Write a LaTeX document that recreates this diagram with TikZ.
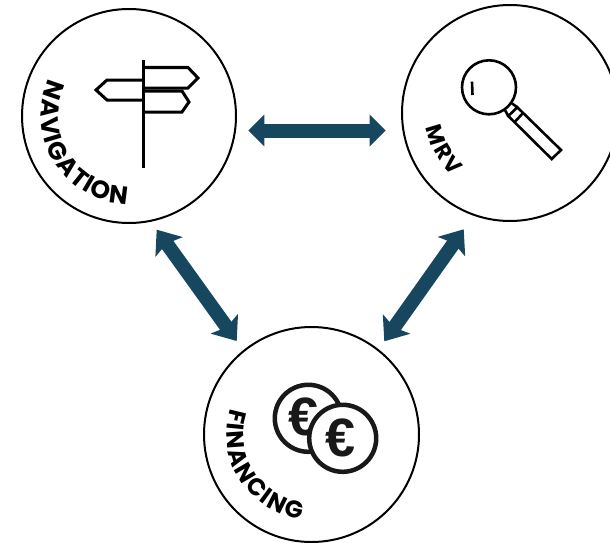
\documentclass[tikz,border=0pt]{standalone}
\usepackage{fontspec}
\usetikzlibrary{arrows.meta,decorations.text}
\newfontfamily\etiqueta{Poppins}
\newfontfamily\simbolo{Liberation Sans}
\definecolor{flecha}{HTML}{17475E}
\begin{document}
\begin{tikzpicture}[
x=1pt, y=1pt,
circulo/.style={draw, line width=2pt, circle, minimum size=214pt, inner sep=0pt},
enlace/.style={draw=flecha, line width=14pt, {Triangle[length=16pt,width=31pt]}-{Triangle[length=16pt,width=31pt]}},
diagonal/.style={draw=flecha, line width=14pt, {Stealth[length=21pt,width=33pt,inset=4pt]}-{Stealth[length=21pt,width=33pt,inset=4pt]}},
icono/.style={line width=3pt, line join=miter},
lupa/.style={line width=2.6pt},
moneda/.style={draw=black!90, fill=white, line width=4.5pt, circle, minimum size=67pt, inner sep=0pt},
euro/.style={font=\simbolo\bfseries\fontsize{54}{54}\selectfont, text=black!90, inner sep=0pt}
]
\useasboundingbox (0,-543) rectangle (610,0);
% Circulos
\node[circulo] (nav) at (129,-116) {};
\node[circulo, minimum size=216pt] (mrv) at (510,-113) {};
\node[circulo, minimum size=215pt] (fin) at (311.5,-434.5) {};
% Textos
\path[decorate, decoration={text along path, text align={fit to path},
  text={|\etiqueta\bfseries\fontsize{25}{25}\selectfont|NAVIGATION}}]
  (nav) ++(155:88pt) arc (155:269:88pt);
\path[decorate, decoration={text along path, text align={fit to path},
  text={|\etiqueta\bfseries\fontsize{22}{22}\selectfont|MRV}}]
  (mrv) ++(190:85pt) arc (190:228:85pt);
\path[decorate, decoration={text along path, text align={fit to path},
  text={|\etiqueta\bfseries\fontsize{24}{24}\selectfont|FINANCING}}]
  (fin) ++(162:85pt) arc (162:263:85pt);
% Poste
\draw[icono] (143,-60) -- (143,-168);
\draw[icono] (143,-67.5) -- (188,-67.5) -- (198,-78) -- (188,-88) -- (143,-88);
\draw[icono] (143,-80) -- (107,-80) -- (96,-90) -- (107,-100) -- (143,-100);
\draw[icono] (143,-91) -- (182,-91) -- (189,-102) -- (182,-112) -- (143,-112);
% Lupa
\node[draw, lupa, circle, minimum size=54pt, inner sep=0pt] (lente) at (489,-87.3) {};
\draw[lupa] (472,-81.7) -- (472.5,-95);
\draw[lupa] (517.3,-107.3) -- (508.3,-116) -- (551.7,-159) -- (561,-150) -- cycle;
\draw[lupa] (523.3,-112.7) -- (515,-121.7);
\draw[lupa] (lente.-35) -- (517.3,-107.3);
\draw[lupa] (lente.-55) -- (508.3,-116);
% Monedas
\node[moneda] (moneda1) at (308.3,-418.3) {};
\node[euro] (euro1) at (304,-417) {€};
\node[moneda] (moneda2) at (342.7,-438.3) {};
\node[euro] (euro2) at (341,-438) {€};
% Aristas
\coordinate (navE) at (248.3,-130.5);
\coordinate (mrvW) at (385.7,-130.5);
\coordinate (navS) at (156.7,-229.7);
\coordinate (finN) at (236.7,-341);
\coordinate (mrvS) at (463.7,-229.3);
\coordinate (finE) at (384.3,-341.3);
\draw[enlace] (navE) -- (mrvW);
\draw[diagonal] (navS) -- (finN);
\draw[diagonal] (mrvS) -- (finE);
\end{tikzpicture}
\end{document}
